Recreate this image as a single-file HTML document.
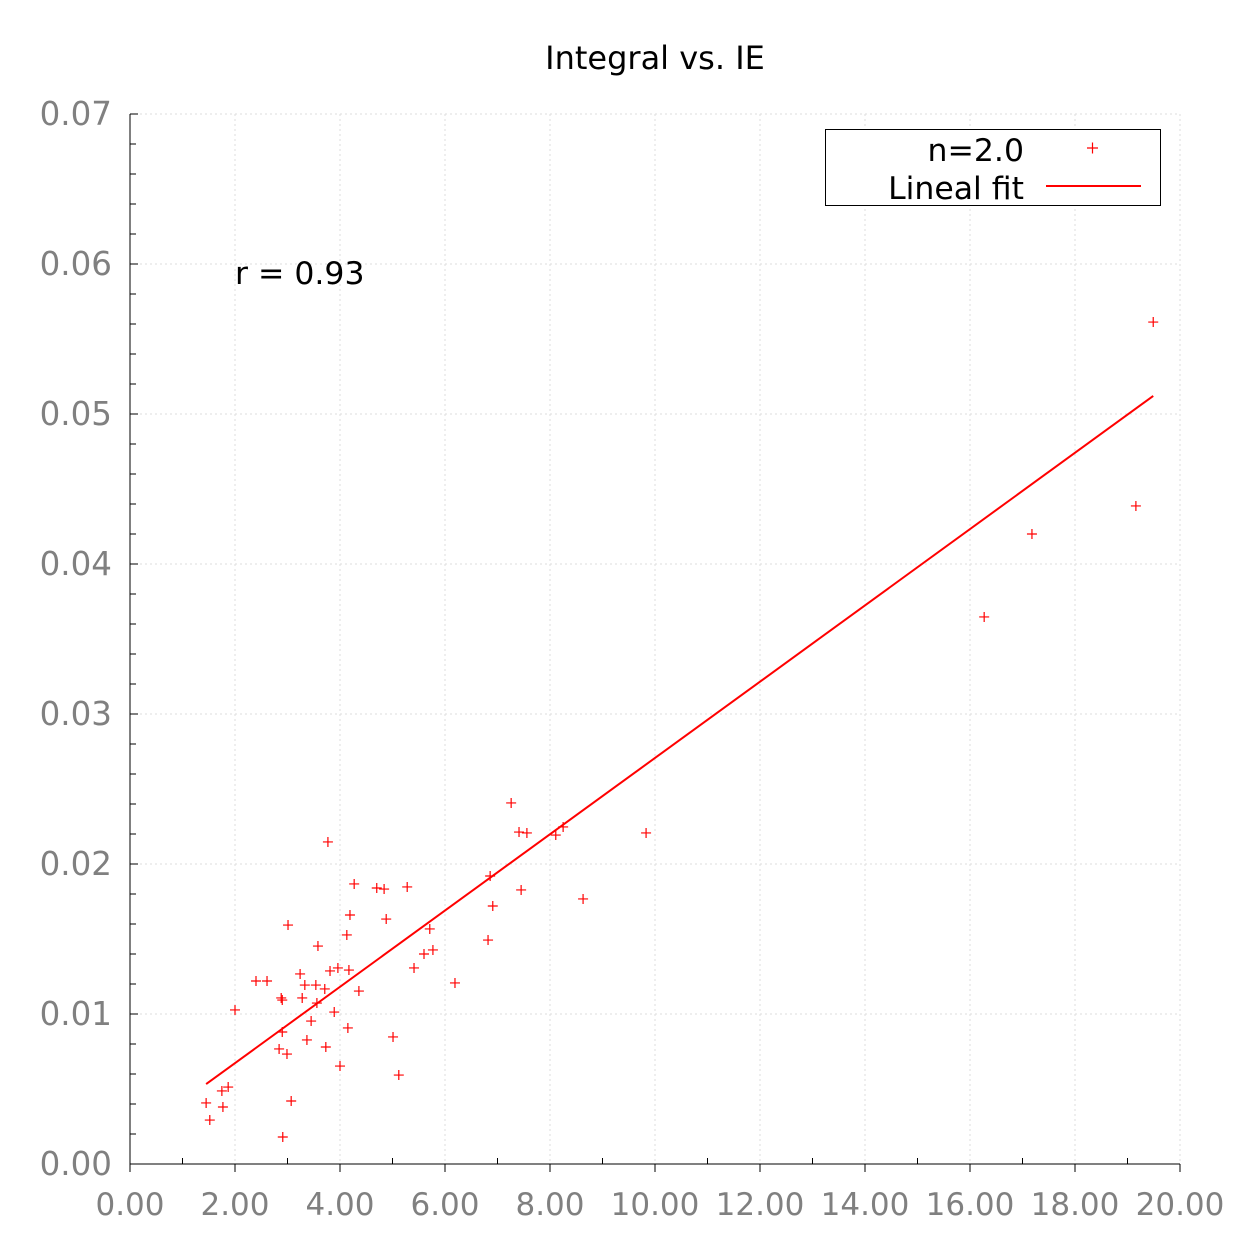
<!DOCTYPE html>
<html><head><meta charset="utf-8"><style>body{margin:0;background:#fff}</style></head>
<body>
<svg id="chart" width="1240" height="1240" xmlns="http://www.w3.org/2000/svg" style="font-family:'DejaVu Sans','Liberation Sans',sans-serif">
<rect width="1240" height="1240" fill="#fff"/>
<g id="grid"></g>
<g id="axes"></g>
<g id="marks"></g>
<text x="655" y="69" font-size="32" text-anchor="middle" fill="#000">Integral vs. IE</text>
<text x="235" y="284" font-size="31.5" fill="#000">r = 0.93</text>
<g>
<rect x="825.5" y="129.5" width="335" height="76" fill="#fff" stroke="#000" stroke-width="1"/>
<text x="1024" y="161" font-size="31.5" text-anchor="end">n=2.0</text>
<text x="1024" y="199" font-size="31.5" text-anchor="end">Lineal fit</text>
<path d="M1087 148h11M1092.5 142.5v11" stroke="#f00" stroke-width="1.2"/>
<line x1="1046" y1="186" x2="1141" y2="186" stroke="#f00" stroke-width="2"/>
</g>
</svg>
<script>
const xVals=[1.45,1.52,1.75,1.77,1.87,2.00,2.40,2.61,2.84,2.88,2.90,2.91,2.90,2.99,3.01,3.07,3.24,3.28,3.33,3.37,3.45,3.54,3.56,3.58,3.71,3.73,3.77,3.81,3.89,3.96,4.00,4.13,4.15,4.17,4.19,4.27,4.36,4.70,4.84,4.88,5.01,5.12,5.28,5.41,5.60,5.71,5.77,6.19,6.82,6.86,6.91,7.26,7.41,7.45,7.56,8.11,8.25,8.63,9.83,16.27,17.18,19.16,19.49];
const yVals=[0.00407,0.00293,0.00487,0.00380,0.00513,0.01027,0.01220,0.01220,0.00767,0.01107,0.01093,0.00180,0.00880,0.00733,0.01593,0.00420,0.01267,0.01107,0.01193,0.00827,0.00953,0.01193,0.01073,0.01453,0.01167,0.00780,0.02147,0.01287,0.01013,0.01307,0.00653,0.01527,0.00907,0.01293,0.01660,0.01867,0.01153,0.01840,0.01833,0.01633,0.00847,0.00593,0.01847,0.01307,0.01400,0.01567,0.01427,0.01207,0.01493,0.01920,0.01720,0.02407,0.02213,0.01827,0.02207,0.02193,0.02247,0.01767,0.02207,0.03647,0.04200,0.04387,0.05613];
const fitSlope=0.002543;
const fitIntercept=0.00164;
const fitRange=[1.45,19.49];
const xTicks=[0,2,4,6,8,10,12,14,16,18,20];
const yTicks=[0,0.01,0.02,0.03,0.04,0.05,0.06,0.07];
const NS="http://www.w3.org/2000/svg";
const L=130,R=1180,T=114,B=1164;
function sx(v){return L+(v-0)/20*(R-L);}
function sy(v){return B-(v-0)/0.07*(B-T);}
function mk(tag,attrs,parent){const e=document.createElementNS(NS,tag);for(const k in attrs)e.setAttribute(k,attrs[k]);parent.appendChild(e);return e;}
const grid=document.getElementById('grid'),axes=document.getElementById('axes'),marks=document.getElementById('marks');
xTicks.forEach(t=>{const x=sx(t);
 if(t>0){const g=mk('line',{x1:x,y1:T,x2:x,y2:B,stroke:'#ddd','stroke-width':1,'stroke-dasharray':'2,3'},grid);
 
 }
 mk('line',{x1:x,y1:B,x2:x,y2:B+8,stroke:'#000'},axes);
 const tx=mk('text',{x:x,y:B+51,'font-size':31,'text-anchor':'middle',fill:'#808080'},axes);
 tx.textContent=t.toFixed(2);
 
 
});
for(let m=1;m<20;m+=2){const x=sx(m);mk('line',{x1:x,y1:B,x2:x,y2:B-6,stroke:'#000'},axes);}
yTicks.forEach(t=>{const y=sy(t);
 if(t>0){const g=mk('line',{x1:L,y1:y,x2:R,y2:y,stroke:'#ddd','stroke-width':1,'stroke-dasharray':'2,3'},grid);
 
 }
 mk('line',{x1:L,y1:y,x2:L+8,y2:y,stroke:'#000'},axes);
 const tx=mk('text',{x:L-18,y:y+11,'font-size':32.5,'text-anchor':'end',fill:'#808080'},axes);
 tx.textContent=t.toFixed(2);
 
 
});
for(let i=0;i<35;i++){if(i%5===0)continue;const y=sy(i*0.002);mk('line',{x1:L,y1:y,x2:L+6,y2:y,stroke:'#000'},axes);}
mk('line',{x1:L,y1:T,x2:L,y2:B,stroke:'#000'},axes);
mk('line',{x1:L,y1:B,x2:R,y2:B,stroke:'#000'},axes);
xVals.forEach((xv,i)=>{const x=sx(xv),y=sy(yVals[i]);
 const p=mk('path',{d:`M${x-5} ${y}h10M${x} ${y-5}v10`,stroke:'#f00','stroke-width':1.2,fill:'none'},marks);
 
 
});
const fl=mk('line',{x1:sx(fitRange[0]),y1:sy(fitIntercept+fitSlope*fitRange[0]),x2:sx(fitRange[1]),y2:sy(fitIntercept+fitSlope*fitRange[1]),stroke:'#f00','stroke-width':2},marks);


</script>
</body></html>
